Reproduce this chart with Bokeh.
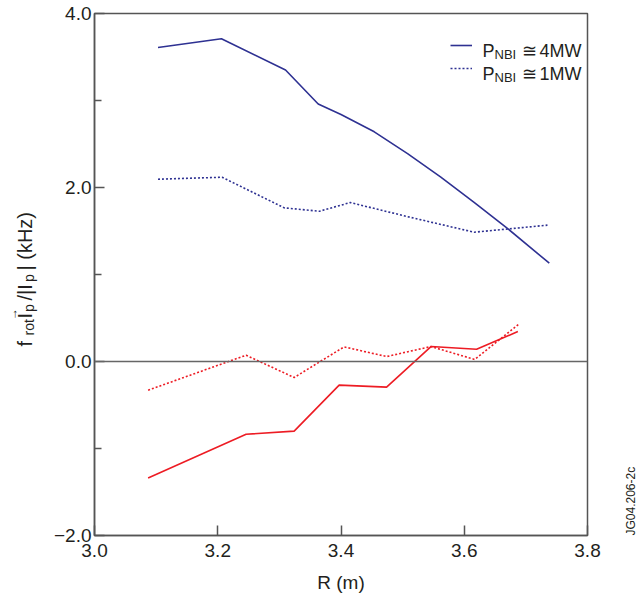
import math
from bokeh.plotting import figure
from bokeh.layouts import row
from bokeh.models import (Span, Label, FixedTicker, Range1d, Legend, LegendItem,
                          CustomJSTickFormatter)
from bokeh.embed import file_html
from bokeh.resources import INLINE

# ---------------- data ----------------
r_blue_4mw = [3.103, 3.206, 3.310, 3.363, 3.400, 3.454, 3.508, 3.562, 3.616, 3.670, 3.738]
f_blue_4mw = [3.61, 3.71, 3.35, 2.96, 2.84, 2.64, 2.39, 2.12, 1.83, 1.53, 1.13]
r_blue_1mw = [3.103, 3.207, 3.308, 3.365, 3.415, 3.508, 3.616, 3.735]
f_blue_1mw = [2.095, 2.118, 1.766, 1.727, 1.827, 1.665, 1.486, 1.567]
r_red_4mw = [3.087, 3.246, 3.324, 3.397, 3.474, 3.546, 3.620, 3.687]
f_red_4mw = [-1.34, -0.836, -0.80, -0.272, -0.295, 0.172, 0.141, 0.344]
r_red_1mw = [3.087, 3.246, 3.324, 3.405, 3.474, 3.546, 3.617, 3.690]
f_red_1mw = [-0.33, 0.072, -0.184, 0.168, 0.057, 0.172, 0.023, 0.436]
x_ticks = [3.0, 3.2, 3.4, 3.6, 3.8]
y_ticks = [-2.0, 0.0, 2.0, 4.0]
y_minor_ticks = [-1.0, 1.0, 3.0]

# ---------------- layout (page pixels) ----------------
W, H = 640, 601
STRIP_L, STRIP_R = 40, 30
MAIN_W = W - STRIP_L - STRIP_R
F_LEFT, F_RIGHT, F_TOP, F_BOTTOM = 94, 587, 13, 535

FONT = "Liberation Sans"
TXT = "#231f20"
AX = "#555555"
BLUE = "#2e3192"
RED = "#ed1c24"
X0, X1, Y0, Y1 = 3.0, 3.8, -2.0, 4.0

p = figure(width=MAIN_W, height=H, x_range=Range1d(X0, X1), y_range=Range1d(Y0, Y1),
           output_backend="svg", toolbar_location=None,
           min_border_left=F_LEFT - STRIP_L, min_border_right=STRIP_L + MAIN_W - F_RIGHT,
           min_border_top=F_TOP, min_border_bottom=H - F_BOTTOM)
p.grid.visible = False
p.outline_line_color = AX
p.outline_line_width = 1.5
p.background_fill_color = "white"
p.border_fill_color = "white"

for ax in (p.xaxis[0], p.yaxis[0]):
    ax.axis_line_color = AX
    ax.axis_line_width = 1.5
    ax.major_tick_line_color = AX
    ax.major_tick_line_width = 1.5
    ax.minor_tick_line_color = AX
    ax.minor_tick_line_width = 1.5
    ax.major_tick_in = 10
    ax.major_tick_out = 0
    ax.minor_tick_in = 7
    ax.minor_tick_out = 0
    ax.major_label_text_font = FONT
    ax.major_label_text_font_size = "19px"
    ax.major_label_text_color = TXT
    ax.formatter = CustomJSTickFormatter(
        code='return (tick < 0 ? "\\u2212" : "") + Math.abs(tick).toFixed(1);')

p.xaxis.ticker = FixedTicker(ticks=x_ticks)
p.xaxis.major_label_standoff = 8
p.xaxis.axis_label = "R (m)"
p.xaxis.axis_label_text_font = FONT
p.xaxis.axis_label_text_font_size = "19px"
p.xaxis.axis_label_text_font_style = "normal"
p.xaxis.axis_label_text_color = TXT
p.xaxis.axis_label_standoff = 12

p.yaxis.ticker = FixedTicker(ticks=y_ticks, minor_ticks=y_minor_ticks)
p.yaxis.major_label_standoff = 3

p.add_layout(Span(location=0, dimension="width", line_color="#666666", line_width=1.5))

r1 = p.line(r_blue_4mw, f_blue_4mw, line_color=BLUE, line_width=1.6)
r2 = p.line(r_blue_1mw, f_blue_1mw, line_color=BLUE, line_width=1.6, line_dash="2 2")
p.line(r_red_4mw, f_red_4mw, line_color=RED, line_width=1.6)
p.line(r_red_1mw, f_red_1mw, line_color=RED, line_width=1.6, line_dash="2 2")

FW = F_RIGHT - F_LEFT
FH = F_BOTTOM - F_TOP


def dx(px):
    return X0 + (px - F_LEFT) * (X1 - X0) / FW


def dy(py):
    return Y1 - (py - F_TOP) * (Y1 - Y0) / FH


def text(fig, t, x, y, size, angle=0.0, baseline="alphabetic"):
    fig.add_layout(Label(x=x, y=y, text=t, text_font=FONT, text_font_size=f"{size}px",
                         text_color=TXT, angle=angle, text_align="left",
                         text_baseline=baseline))


# legend samples (frame-relative placement)
leg = Legend(items=[LegendItem(label=" ", renderers=[r1]),
                    LegendItem(label=" ", renderers=[r2])],
             location=(356, 457), padding=0, margin=0, spacing=3,
             glyph_width=22, glyph_height=20, label_standoff=0,
             label_text_font_size="1px",
             border_line_color=None, background_fill_alpha=0)
p.add_layout(leg)

# legend texts
for i, power in enumerate(["4MW", "1MW"]):
    base = 50 + 23 * i
    text(p, "P", dx(482), dy(base), 18)
    text(p, "NBI", dx(494), dy(base + 4), 13)
    text(p, "\u2245", dx(521), dy(base), 18)
    text(p, power, dx(539), dy(base), 18)


def strip(width, top, bottom):
    # frame spans page rows top..bottom; data x = local px, data y = H - page y
    s = figure(width=width, height=H, x_range=Range1d(0, width),
               y_range=Range1d(H - bottom, H - top),
               output_backend="svg", toolbar_location=None,
               x_axis_location=None, y_axis_location=None,
               min_border_left=0, min_border_right=0,
               min_border_top=top, min_border_bottom=H - bottom)
    s.grid.visible = False
    s.outline_line_color = None
    s.background_fill_color = "white"
    s.border_fill_color = "white"
    return s


# y-axis label, rotated, built from pieces (x = glyph centre line)
left = strip(STRIP_L, F_TOP, F_BOTTOM)
A = math.pi / 2
pieces = [("f", 24.5, 346, 20), ("rot", 28, 335, 14), ("I", 24.5, 318, 20),
          ("\u2192", 12.5, 319.5, 12), ("p", 28, 311.5, 14), ("/|I", 24.5, 300, 20),
          ("p", 28, 281.5, 14), ("| (kHz)", 24.5, 270, 20)]
for t, cx, sy, size in pieces:
    text(left, t, cx, H - sy, size, angle=A, baseline="middle")

# figure id on the right edge
right = strip(STRIP_R, F_TOP, F_BOTTOM)
text(right, "JG04.206-2c", 630 - (STRIP_L + MAIN_W), H - 535, 12, angle=A,
     baseline="middle")

layout = row(left, p, right, spacing=0)
open("out.html", "w").write(file_html(layout, INLINE))
